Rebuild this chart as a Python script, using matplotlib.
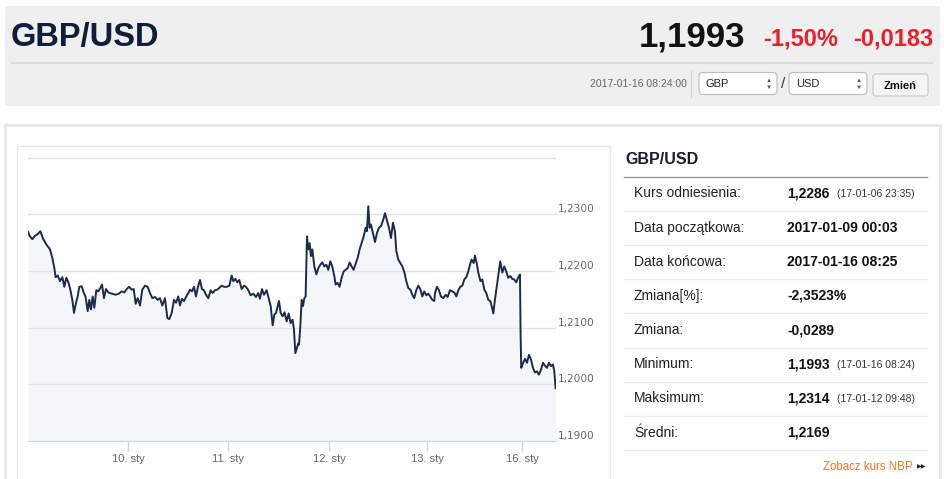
import matplotlib
matplotlib.use("Agg")
import matplotlib.pyplot as plt
from matplotlib.patches import Rectangle, FancyBboxPatch

plt.rcParams["font.family"] = ["Liberation Sans", "DejaVu Sans"]

# trading-day position (0 = 9 Jan 00:00, weekend skipped) and GBP/USD rate
days = [
    0.000, 0.020, 0.044, 0.071, 0.098, 0.125, 0.155, 0.189, 0.223, 0.247,
    0.267, 0.280, 0.301, 0.324, 0.348, 0.368, 0.388, 0.409, 0.429, 0.449,
    0.466, 0.483, 0.503, 0.520, 0.544, 0.564, 0.584, 0.605, 0.621, 0.638,
    0.655, 0.672, 0.692, 0.713, 0.733, 0.750, 0.770, 0.790, 0.814, 0.848,
    0.888, 0.922, 0.949, 0.976, 1.000, 1.023, 1.050, 1.071, 1.091, 1.111,
    1.135, 1.158, 1.185, 1.212, 1.236, 1.260, 1.287, 1.314, 1.337, 1.361,
    1.381,
    1.388, 1.412, 1.432, 1.456, 1.479, 1.500, 1.523, 1.540, 1.560, 1.581,
    1.601, 1.624, 1.641, 1.662, 1.682, 1.702, 1.722, 1.743, 1.763, 1.783,
    1.803, 1.827, 1.851, 1.871, 1.895, 1.918, 1.938, 1.962, 1.986, 2.013,
    2.040, 2.064, 2.080, 2.101, 2.121, 2.141, 2.165, 2.188, 2.209, 2.232,
    2.256, 2.283, 2.310, 2.334, 2.350, 2.371, 2.391, 2.418, 2.438, 2.459,
    2.479, 2.496, 2.513, 2.526, 2.543, 2.560, 2.580, 2.600, 2.621, 2.641,
    2.661, 2.681, 2.695, 2.709, 2.729, 2.742,
    2.746, 2.759, 2.773, 2.786, 2.800, 2.813, 2.827, 2.840, 2.854, 2.867,
    2.881, 2.901, 2.922, 2.942, 2.962, 2.982, 3.002, 3.023, 3.043, 3.063,
    3.083, 3.104, 3.117, 3.137, 3.157, 3.178, 3.198, 3.218, 3.239, 3.259,
    3.279, 3.299, 3.320, 3.340, 3.360, 3.380, 3.401, 3.421, 3.434, 3.448,
    3.461, 3.475, 3.495, 3.516, 3.536, 3.556, 3.576, 3.597, 3.617, 3.637,
    3.658, 3.678, 3.698, 3.718, 3.732, 3.752, 3.772, 3.793, 3.813, 3.833,
    3.853, 3.874, 3.894, 3.914, 3.934, 3.955, 3.975, 3.995, 4.015, 4.036,
    4.056, 4.076, 4.096, 4.117,
    4.124, 4.144, 4.164, 4.184, 4.208, 4.232, 4.252, 4.276, 4.299, 4.320,
    4.340, 4.360, 4.380, 4.401, 4.421, 4.441, 4.461, 4.478, 4.495, 4.516,
    4.529, 4.546, 4.563, 4.584, 4.603, 4.624, 4.644, 4.664, 4.684, 4.698,
    4.715, 4.731, 4.748, 4.765, 4.785, 4.806, 4.826, 4.846, 4.866, 4.887,
    4.907, 4.927, 4.947, 4.968, 4.985, 4.991, 4.998, 5.015, 5.036, 5.056,
    5.076, 5.096, 5.117, 5.137, 5.157, 5.177, 5.198, 5.218, 5.238, 5.258,
    5.279, 5.299, 5.319, 5.333, 5.346,
]
rate = [
    1.2269, 1.2261, 1.2256, 1.2262, 1.2265, 1.2270, 1.2256, 1.2246, 1.2238, 1.2223,
    1.2205, 1.2189, 1.2192, 1.2182, 1.2189, 1.2172, 1.2188, 1.2180, 1.2167, 1.2149,
    1.2126, 1.2141, 1.2155, 1.2172, 1.2173, 1.2162, 1.2154, 1.2129, 1.2149, 1.2132,
    1.2155, 1.2135, 1.2166, 1.2164, 1.2170, 1.2176, 1.2152, 1.2168, 1.2162, 1.2160,
    1.2158, 1.2160, 1.2164, 1.2162, 1.2168, 1.2172, 1.2167, 1.2168, 1.2142, 1.2152,
    1.2139, 1.2167, 1.2174, 1.2172, 1.2161, 1.2152, 1.2154, 1.2149, 1.2152, 1.2139,
    1.2149,
    1.2152, 1.2117, 1.2115, 1.2126, 1.2149, 1.2144, 1.2155, 1.2139, 1.2151, 1.2147,
    1.2154, 1.2161, 1.2167, 1.2164, 1.2172, 1.2155, 1.2172, 1.2184, 1.2168, 1.2166,
    1.2158, 1.2152, 1.2166, 1.2161, 1.2166, 1.2167, 1.2170, 1.2174, 1.2172, 1.2172,
    1.2174, 1.2192, 1.2182, 1.2186, 1.2180, 1.2184, 1.2168, 1.2174, 1.2172, 1.2166,
    1.2157, 1.2160, 1.2154, 1.2161, 1.2151, 1.2168, 1.2158, 1.2166, 1.2152, 1.2138,
    1.2104, 1.2123, 1.2126, 1.2135, 1.2147, 1.2126, 1.2120, 1.2127, 1.2111, 1.2125,
    1.2108, 1.2114, 1.2097, 1.2055, 1.2067, 1.2073,
    1.2070, 1.2102, 1.2149, 1.2138, 1.2152, 1.2155, 1.2261, 1.2238, 1.2249, 1.2226,
    1.2238, 1.2208, 1.2194, 1.2205, 1.2211, 1.2215, 1.2208, 1.2211, 1.2202, 1.2217,
    1.2208, 1.2191, 1.2176, 1.2179, 1.2172, 1.2188, 1.2199, 1.2202, 1.2205, 1.2215,
    1.2208, 1.2202, 1.2213, 1.2223, 1.2238, 1.2249, 1.2261, 1.2276, 1.2270, 1.2314,
    1.2276, 1.2282, 1.2267, 1.2251, 1.2267, 1.2276, 1.2279, 1.2289, 1.2302, 1.2289,
    1.2276, 1.2258, 1.2285, 1.2270, 1.2235, 1.2220, 1.2214, 1.2208, 1.2198, 1.2182,
    1.2170, 1.2167, 1.2158, 1.2152, 1.2166, 1.2174, 1.2168, 1.2155, 1.2164, 1.2157,
    1.2160, 1.2155, 1.2149, 1.2147,
    1.2161, 1.2172, 1.2166, 1.2155, 1.2152, 1.2158, 1.2154, 1.2166, 1.2164, 1.2162,
    1.2155, 1.2166, 1.2172, 1.2174, 1.2185, 1.2189, 1.2199, 1.2211, 1.2220, 1.2214,
    1.2227, 1.2214, 1.2197, 1.2182, 1.2185, 1.2167, 1.2161, 1.2149, 1.2147, 1.2138,
    1.2125, 1.2149, 1.2170, 1.2191, 1.2217, 1.2197, 1.2208, 1.2199, 1.2188, 1.2191,
    1.2186, 1.2185, 1.2180, 1.2189, 1.2194, 1.2091, 1.2029, 1.2037, 1.2045, 1.2038,
    1.2052, 1.2044, 1.2029, 1.2021, 1.2023, 1.2017, 1.2026, 1.2038, 1.2033, 1.2029,
    1.2038, 1.2032, 1.2035, 1.2023, 1.1993,
]

# ordinal axis: where each date starts
tick_days = [1.013, 2.026, 3.051, 4.043, 5.005]
tick_labels = ["10. sty", "11. sty", "12. sty", "13. sty", "16. sty"]
y_ticks = [1.19, 1.20, 1.21, 1.22, 1.23, 1.24]

pair = "GBP/USD"
last_rate = "1,1993"
change_pct = "-1,50%"
change_abs = "-0,0183"
timestamp = "2017-01-16 08:24:00"
base_cur = "GBP"
quote_cur = "USD"

table_labels = ["Kurs odniesienia:", "Data początkowa:", "Data końcowa:", "Zmiana[%]:",
                "Zmiana:", "Minimum:", "Maksimum:", "Średni:"]
table_values = ["1,2286", "2017-01-09 00:03", "2017-01-16 08:25", "-2,3523%",
                "-0,0289", "1,1993", "1,2314", "1,2169"]
table_notes = ["(17-01-06 23:35)", "", "", "", "", "(17-01-16 08:24)", "(17-01-12 09:48)", ""]

W, H = 945, 479
fig = plt.figure(figsize=(W / 100, H / 100), dpi=100)
fig.patch.set_facecolor("white")

# background canvas in pixel coordinates
bg = fig.add_axes([0, 0, 1, 1])
bg.set_xlim(0, W)
bg.set_ylim(H, 0)
bg.axis("off")

# header
bg.add_patch(Rectangle((5, 6), 935, 100, facecolor="#efefef", edgecolor="none"))
bg.plot([12, 932], [62.5, 62.5], color="#dadada", lw=1.5)
bg.text(11, 37, pair, fontsize=23.5, fontweight="bold", color="#0f1e3c", va="center")
bg.text(745, 37, last_rate, fontsize=25, fontweight="bold", color="#111111", va="center", ha="right")
bg.text(838, 39, change_pct, fontsize=17, fontweight="bold", color="#e8202a", va="center", ha="right")
bg.text(933, 39, change_abs, fontsize=17, fontweight="bold", color="#e8202a", va="center", ha="right")

bg.text(687, 84, timestamp, fontsize=7.5, color="#666666", va="center", ha="right")
bg.plot([691, 691], [71, 97], color="#d4d4d4", lw=1)
for x0, cur in [(699, base_cur), (789, quote_cur)]:
    bg.add_patch(FancyBboxPatch((x0, 72.5), 78, 22, boxstyle="round,pad=0,rounding_size=4",
                                facecolor="white", edgecolor="#bcbcbc", lw=0.8))
    bg.text(x0 + 7, 83.5, cur, fontsize=8, color="#222222", va="center")
    bg.text(x0 + 70, 80, "▲", fontsize=4.5, color="#555555", va="center", ha="center")
    bg.text(x0 + 70, 87.5, "▼", fontsize=4.5, color="#555555", va="center", ha="center")
bg.text(783.5, 84, "/", fontsize=11, color="#333333", va="center", ha="center")
bg.add_patch(FancyBboxPatch((873, 74), 55, 22, boxstyle="round,pad=0,rounding_size=3",
                            facecolor="#f5f5f5", edgecolor="#c6c6c6", lw=0.8))
bg.text(900.5, 85.5, "Zmień", fontsize=8, fontweight="bold", color="#111111", va="center", ha="center")

# lower panel boxes
bg.add_patch(Rectangle((5, 125), 935, 360, facecolor="white", edgecolor="#e6e6e6", lw=2))
bg.add_patch(Rectangle((17, 146), 593, 340, facecolor="white", edgecolor="#e8e8e8", lw=1))

# side table
bg.text(625, 159, pair, fontsize=11.5, fontweight="bold", color="#1a1a2e", va="center")
bg.plot([624, 927], [176.5, 176.5], color="#9a9a9a", lw=1)
row_y = 193.3
for label, value, note in zip(table_labels, table_values, table_notes):
    bg.text(634, row_y, label, fontsize=10, color="#222222", va="center")
    bg.text(787, row_y, value, fontsize=10, fontweight="bold", color="#111111", va="center")
    if note:
        bg.text(837, row_y + 0.5, note, fontsize=7.5, color="#333333", va="center")
    bg.plot([624, 927], [row_y + 17.5, row_y + 17.5], color="#ececec", lw=1)
    row_y += 34.2
bg.text(913, 467, "Zobacz kurs NBP", fontsize=8.3, color="#f37321", va="center", ha="right")
bg.text(917, 467, "▶▶", fontsize=4.5, color="#222222", va="center", ha="left",
        family=["DejaVu Sans"])

# chart
ax = fig.add_axes([28 / W, 1 - 441 / H, 528 / W, 284 / H])
ax.patch.set_alpha(0)
ax.fill_between(days, rate, 1.19, color="#f4f6f9", lw=0, zorder=0.3)
ax.plot(days, rate, color="#1c2b4c", lw=1.4, zorder=2)
ax.set_xlim(0, 5.35)
ax.set_ylim(1.19, 1.2401)

ax.set_axisbelow(True)
ax.yaxis.tick_right()
ax.set_yticks(y_ticks)
ax.set_yticklabels([f"{v:.4f}".replace(".", ",") if v < 1.235 else "" for v in y_ticks])
ax.grid(axis="y", color="#e3e3e3", lw=1)
ax.tick_params(axis="y", length=0, pad=1, labelcolor="#666666")
for lbl in ax.get_yticklabels():
    lbl.set_va("bottom")
    lbl.set_family(["DejaVu Sans"])
    lbl.set_fontsize(7.6)

ax.set_xticks(tick_days, tick_labels)
ax.tick_params(axis="x", length=7.5, width=1, color="#ccd6eb", labelcolor="#666666",
               labelsize=8, pad=2)
for side in ["top", "left", "right"]:
    ax.spines[side].set_visible(False)
ax.spines["bottom"].set_color("#ccd6eb")

fig.savefig("out.png", dpi=100)
